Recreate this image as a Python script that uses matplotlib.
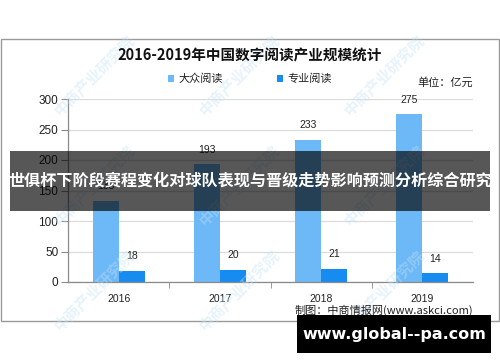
import numpy as np
import matplotlib.pyplot as plt
from matplotlib.patches import Rectangle

plt.rcParams['font.family'] = ['Noto Sans CJK SC', 'DejaVu Sans']

years = ['2016', '2017', '2018', '2019']
mass_reading = [133, 193, 233, 275]   # 大众阅读
pro_reading = [18, 20, 21, 14]        # 专业阅读
yticks = [0, 50, 100, 150, 200, 250, 300]

W, H = 500, 362
light = '#6db8f6'
dark = '#168bf0'


def fx(px):
    return px / W


def fy(py):
    return 1 - py / H


fig = plt.figure(figsize=(W / 100, H / 100), dpi=100)
fig.patch.set_facecolor('white')

# outer frame
fig.patches.append(Rectangle((fx(1), fy(321)), fx(498), (321 - 39) / H, transform=fig.transFigure,
                             fill=False, edgecolor='#9a9a9a', linewidth=1.0, zorder=0))

# faint watermarks
for wy in [75, 185, 290]:
    for wx in [95, 240, 385]:
        fig.text(fx(wx), fy(wy), '中商产业研究院', rotation=45, fontsize=11, color='#c4e2f7',
                 alpha=0.4, ha='center', va='center', fontweight='bold', zorder=0)

ax = fig.add_axes([fx(68), fy(282), fx(473 - 68), (282 - 99) / H])
ax.set_facecolor('none')
x = np.arange(len(years))
bw = 0.257
b1 = ax.bar(x - bw / 2, mass_reading, bw, color=light, label='大众阅读', zorder=2)
b2 = ax.bar(x + bw / 2, pro_reading, bw, color=dark, label='专业阅读', zorder=2)

for xi, v in zip(x, mass_reading):
    ax.annotate(str(v), (xi - bw / 2, v), xytext=(0, 7), textcoords='offset points',
                ha='center', va='bottom', fontsize=7.5, family='Liberation Sans', color='#222')
for xi, v in zip(x, pro_reading):
    ax.annotate(str(v), (xi + bw / 2, v), xytext=(0, 7), textcoords='offset points',
                ha='center', va='bottom', fontsize=7.5, family='Liberation Sans', color='#222')

ax.set_xlim(-0.5, 3.5)
ax.set_ylim(0, 300)
ax.set_yticks(yticks)
ax.set_yticklabels([str(t) for t in yticks], family='Liberation Sans', fontsize=8.5, color='#222')
ax.set_xticks(x)
ax.set_xticklabels(years, family='Liberation Sans', fontsize=7.5, color='#222')
ax.set_xticks([0.5, 1.5, 2.5], minor=True)
ax.tick_params(axis='x', which='major', length=0, pad=9)
ax.tick_params(axis='x', which='minor', length=4, color='#8a8a8a', direction='out')
ax.tick_params(axis='y', length=5, color='#8a8a8a', pad=2)
ax.grid(axis='y', color='#dcdcdc', linewidth=0.9, zorder=0)
ax.set_axisbelow(True)
for s in ['top', 'right']:
    ax.spines[s].set_visible(False)
for s in ['left', 'bottom']:
    ax.spines[s].set_color('#8a8a8a')
    ax.spines[s].set_linewidth(0.9)

fig.text(fx(250), fy(56), '2016-2019年中国数字阅读产业规模统计', ha='center', va='center',
         fontsize=10.5, fontweight='bold', color='#111')
fig.legend(handles=[b1, b2], loc='center', bbox_to_anchor=(fx(250), fy(79)), ncol=2, frameon=False,
           fontsize=8, handlelength=0.6, handleheight=0.6, handletextpad=0.4, columnspacing=4.8,
           labelcolor='#222')
fig.text(fx(473), fy(82), '单位：亿元', ha='right', va='center', fontsize=8, color='#222')
fig.text(fx(473), fy(310), '制图：中商情报网(www.askci.com)', ha='right', va='center', fontsize=8, color='#222')

# overlay banner
fig.patches.append(Rectangle((fx(10), fy(211)), fx(480), 60 / H, transform=fig.transFigure,
                             facecolor='black', alpha=0.66, edgecolor='none', zorder=5))
fig.text(fx(250), fy(181), '世俱杯下阶段赛程变化对球队表现与晋级走势影响预测分析综合研究', ha='center', va='center',
         fontsize=11.6, fontweight='bold', color='white', zorder=6)

fig.patches.append(Rectangle((fx(297), fy(353)), fx(194), 38 / H, transform=fig.transFigure,
                             facecolor='black', edgecolor='none', zorder=5))
fig.text(fx(394), fy(334), 'www.global--pa.com', ha='center', va='center', fontsize=11.5,
         fontweight='bold', color='white', family='DejaVu Sans', zorder=6)

fig.savefig('out.png', dpi=100)
